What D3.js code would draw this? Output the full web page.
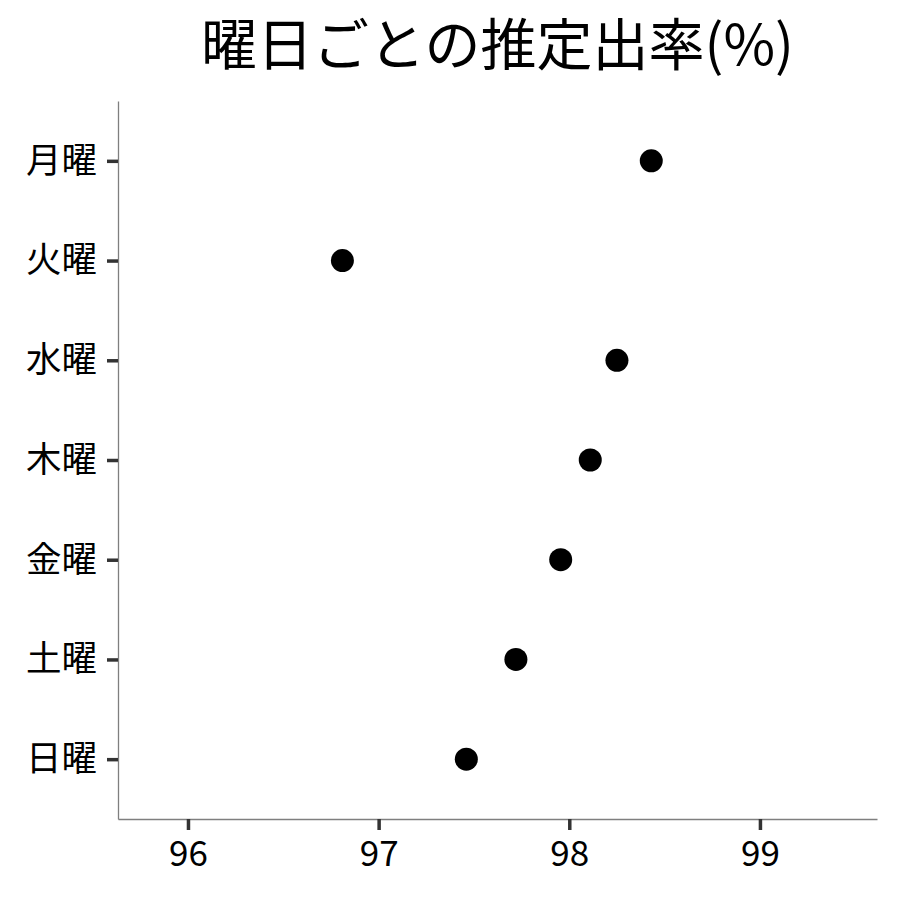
<!DOCTYPE html>
<html>
<head>
<meta charset="utf-8">
<script src="https://cdn.jsdelivr.net/npm/d3@7"></script>
<style>
  body { margin: 0; background: #fff; }
  text { font-family: "Noto Sans CJK JP", "Noto Sans", sans-serif; }
</style>
</head>
<body>
<div id="chart"></div>
<script>
const width = 900,
  height = 900,
  margin = { top: 101, right: 23, bottom: 81, left: 118 };

const title = '曜日ごとの推定出率(%)';
const days = ['月曜', '火曜', '水曜', '木曜', '金曜', '土曜', '日曜'];
const rates = [98.43, 96.81, 98.25, 98.11, 97.955, 97.72, 97.46];
const xTicks = [96, 97, 98, 99];
const xDomain = [95.633, 99.614];

const svg = d3.select('#chart')
  .append('svg')
  .attr('width', width)
  .attr('height', height);

const x = d3.scaleLinear()
  .domain(xDomain)
  .range([margin.left, width - margin.right]);

const y = d3.scalePoint()
  .domain(days)
  .range([margin.top, height - margin.bottom])
  .padding(0.6);

// x axis
const xAxis = svg.append('g')
  .attr('transform', `translate(0,${height - margin.bottom})`)
  .call(d3.axisBottom(x).tickValues(xTicks).tickFormat(d3.format('d'))
    .tickSize(11).tickPadding(11).tickSizeOuter(0));
xAxis.select('.domain').attr('stroke', '#7f7f7f').attr('stroke-width', 1.3);
xAxis.selectAll('.tick line').attr('stroke', '#333').attr('stroke-width', 3.5);
xAxis.selectAll('.tick text')
  .attr('fill', '#000')
  .style('font-size', '35px');

// y axis
const yAxis = svg.append('g')
  .attr('transform', `translate(${margin.left},0)`)
  .call(d3.axisLeft(y).tickSize(11).tickPadding(10).tickSizeOuter(0));
yAxis.select('.domain').attr('stroke', '#7f7f7f').attr('stroke-width', 1.3);
yAxis.selectAll('.tick line').attr('stroke', '#333').attr('stroke-width', 3.5);
yAxis.selectAll('.tick text')
  .attr('fill', '#000')
  .style('font-size', '35.5px');

// points
svg.append('g')
  .selectAll('circle')
  .data(days.map((d, i) => ({ day: d, rate: rates[i] })))
  .join('circle')
  .attr('cx', d => x(d.rate))
  .attr('cy', d => y(d.day))
  .attr('r', 11.5)
  .attr('fill', '#000');

// title
svg.append('text')
  .attr('x', (margin.left + width - margin.right) / 2)
  .attr('y', 65)
  .attr('text-anchor', 'middle')
  .attr('fill', '#000')
  .style('font-size', '56px')
  .text(title);
</script>
</body>
</html>
